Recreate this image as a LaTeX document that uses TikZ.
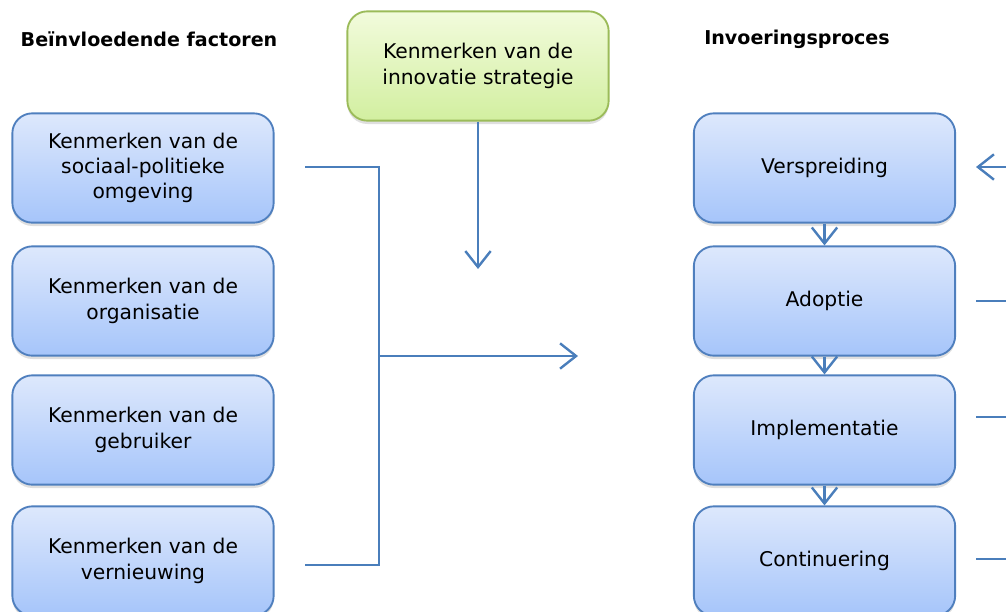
\documentclass[tikz,border=0pt]{standalone}
\usepackage{fontspec}
\setmainfont{DejaVu Sans}
\usetikzlibrary{shadows,arrows.meta}

\definecolor{linkblue}{HTML}{4A7EBB}
\definecolor{boxtop}{HTML}{DDE8FC}
\definecolor{boxbottom}{HTML}{A6C5FA}
\definecolor{boxborder}{HTML}{4F7FBE}
\definecolor{greentop}{HTML}{F2FBDC}
\definecolor{greenbottom}{HTML}{D2EFA0}
\definecolor{greenborder}{HTML}{9BBB59}

\tikzset{
    factor/.style={rounded corners=15pt, minimum width=196pt, minimum height=82pt,
        align=center, font=\fontsize{15.2}{19}\selectfont, line width=1.4pt,
        draw=boxborder, top color=boxtop, bottom color=boxbottom,
        drop shadow={shadow xshift=0pt, shadow yshift=-2.5pt, opacity=0.25}},
    strategy/.style={factor, draw=greenborder, top color=greentop, bottom color=greenbottom},
    head/.style={font=\fontsize{14.3}{17}\selectfont\bfseries},
    link/.style={draw=linkblue, line width=1.6pt},
    tip/.style={-{Straight Barb[length=12pt,width=19pt,line width=1.8pt]}}
}

\begin{document}
\begin{tikzpicture}[x=0.75pt, y=-0.75pt]
    \useasboundingbox (0,0) rectangle (1006,611);
    % headings
    \node[head] (hfactors) at (149,39) {Beïnvloedende factoren};
    \node[head] (hprocess) at (797,39) {Invoeringsproces};
    % boxes
    \node[strategy] (strat) at (478,66) {Kenmerken van de\\innovatie strategie};
    \foreach \n/\y/\t in {f1/168/{Kenmerken van de\\sociaal-politieke\\omgeving},
                          f2/301/{Kenmerken van de\\organisatie},
                          f3/430/{Kenmerken van de\\gebruiker},
                          f4/561/{Kenmerken van de\\vernieuwing}}
        \node[factor] (\n) at (143,\y) {\t};
    \foreach \n/\y/\t in {p1/168/Verspreiding, p2/301/Adoptie,
                          p3/430/Implementatie, p4/561/Continuering}
        \node[factor] (\n) at (824.5,\y) {\t};
    % bracket and arrows
    \coordinate (btop) at (305,167);
    \coordinate (bbot) at (305,565);
    \coordinate (bjoin) at (379,356);
    \coordinate (bend) at (578,356);
    \coordinate (stratend) at (478,269);
    \draw[link] (btop) -- (btop -| bjoin) -- (bbot -| bjoin) -- (bbot);
    \draw[link,tip] (bjoin) -- (bend);
    \draw[link,tip] (strat) -- (stratend);
    \draw[link,tip] (p1) -- (p2);
    \draw[link,tip] (p2) -- (p3);
    \draw[link,tip] (p3) -- (p4);
    % loose ends on the right
    \coordinate (rin) at (1010,167);
    \coordinate (rtip) at (976,167);
    \draw[link,tip] (rin) -- (rtip);
    \foreach \y in {301,417,559} {
        \coordinate (ra) at (976,\y);
        \coordinate (rb) at (1010,\y);
        \draw[link] (ra) -- (rb);
    }
\end{tikzpicture}
\end{document}
